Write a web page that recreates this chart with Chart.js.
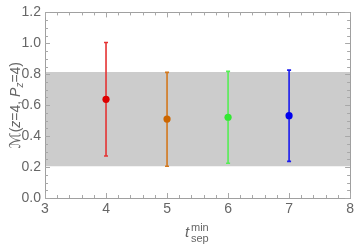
<!DOCTYPE html>
<html><head><meta charset="utf-8">
<script src="https://cdn.jsdelivr.net/npm/chart.js@4"></script>
<style>html,body{margin:0;padding:0;background:#fff}#w{width:357px;height:244px}</style>
</head><body><div id="w"><canvas id="c"></canvas></div>
<script>
const tsepMin = [4, 5, 6, 7];
const centralValues = [0.638, 0.51, 0.522, 0.532];
const errLow = [0.272, 0.205, 0.225, 0.237];
const errHigh = [1.005, 0.812, 0.819, 0.827];
const pointColors = ['#dd0000', '#cc6600', '#33e833', '#0000ee'];
const barColors = ['#e53333', '#d2771c', '#55ee55', '#1a1aee'];
const bandRange = [0.205, 0.815];
const xRange = [3, 8];
const yRange = [0, 1.2];

const datasets = [];
datasets.push({type:'line', data:[{x:xRange[0],y:bandRange[0]},{x:xRange[1],y:bandRange[0]}], borderWidth:0, pointRadius:0, fill:false, order:20});
datasets.push({type:'line', data:[{x:xRange[0],y:bandRange[1]},{x:xRange[1],y:bandRange[1]}], borderWidth:0, pointRadius:0, fill:'-1', backgroundColor:'#cccccc', order:19});
tsepMin.forEach((x,i)=>{
  datasets.push({type:'line', data:[{x:x,y:errLow[i]},{x:x,y:errHigh[i]}], borderColor:barColors[i], borderWidth:1.6,
    pointStyle:'line', pointRadius:2, pointBorderColor:barColors[i], pointBorderWidth:1.6, fill:false, order:5});
  datasets.push({type:'scatter', data:[{x:x,y:centralValues[i]}], backgroundColor:pointColors[i], borderWidth:0, pointRadius:3.6, order:1});
});

const isMult = (v,s)=>Math.abs(v/s - Math.round(v/s))<1e-6;
const FONT = '"Liberation Sans", Arial, sans-serif';

const framePlugin = {
  id:'frame',
  afterDraw(chart){
    const {ctx, chartArea:a, scales:{x,y}} = chart;
    ctx.save();
    ctx.strokeStyle = '#a0a0a0';
    ctx.lineWidth = 1;
    ctx.strokeRect(Math.round(a.left)+0.5, Math.round(a.top)+0.5, Math.round(a.right-a.left), Math.round(a.bottom-a.top));
    ctx.strokeStyle = '#a8a8a8';
    x.ticks.forEach(t=>{
      const px = Math.round(x.getPixelForValue(t.value))+0.5;
      const L = isMult(t.value,1) ? 5 : 3;
      ctx.beginPath();
      ctx.moveTo(px, a.bottom); ctx.lineTo(px, a.bottom-L);
      ctx.moveTo(px, a.top); ctx.lineTo(px, a.top+L);
      ctx.stroke();
    });
    y.ticks.forEach(t=>{
      const py = Math.round(y.getPixelForValue(t.value))+0.5;
      const L = isMult(t.value,0.2) ? 5 : 3;
      ctx.beginPath();
      ctx.moveTo(a.left, py); ctx.lineTo(a.left+L, py);
      ctx.moveTo(a.right, py); ctx.lineTo(a.right-L, py);
      ctx.stroke();
    });
    ctx.fillStyle = '#666';
    ctx.textBaseline = 'alphabetic';
    let tx = 185, ty = 237;
    ctx.font = 'italic 15px ' + FONT;
    ctx.fillText('t', tx, ty);
    ctx.font = '11px ' + FONT;
    ctx.fillText('min', tx+6, ty-6);
    ctx.fillText('sep', tx+6, ty+5);
    ctx.translate(15, (a.top+a.bottom)/2);
    ctx.rotate(-Math.PI/2);
    const parts = [
      {t:'ℳ', f:'15px "DejaVu Sans", sans-serif', dy:0},
      {t:'(', f:'14px ' + FONT, dy:0},
      {t:'z', f:'italic 14px ' + FONT, dy:0},
      {t:'=4, ', f:'14px ' + FONT, dy:0},
      {t:'P', f:'italic 14px ' + FONT, dy:0},
      {t:'z', f:'italic 10px ' + FONT, dy:3},
      {t:'=4)', f:'14px ' + FONT, dy:0}
    ];
    let w = 0;
    parts.forEach(p=>{ctx.font=p.f; w += ctx.measureText(p.t).width;});
    let cx = -w/2;
    parts.forEach(p=>{ctx.font=p.f; ctx.fillText(p.t, cx, 5+p.dy); cx += ctx.measureText(p.t).width;});
    ctx.restore();
  }
};

new Chart(document.getElementById('c'), {
  type:'scatter',
  data:{datasets},
  options:{
    responsive:true, maintainAspectRatio:false, animation:false,
    layout:{padding:{top:8, right:6, left:0, bottom:0}},
    plugins:{legend:{display:false}, tooltip:{enabled:false}, filler:{drawTime:'beforeDatasetsDraw'}},
    scales:{
      x:{type:'linear', min:xRange[0], max:xRange[1],
        afterFit(s){s.height = 46;},
        grid:{display:false, drawTicks:false}, border:{display:false},
        ticks:{stepSize:0.2, autoSkip:false, maxRotation:0, padding:3, color:'#666', font:{family:FONT, size:14},
          callback:(v)=> isMult(v,1) ? String(Math.round(v)) : ''}},
      y:{type:'linear', min:yRange[0], max:yRange[1],
        afterFit(s){s.width = 45;},
        grid:{display:false, drawTicks:false}, border:{display:false},
        ticks:{stepSize:0.05, autoSkip:false, padding:4, color:'#666', font:{family:FONT, size:14},
          callback:(v)=> isMult(v,0.2) ? v.toFixed(1) : ''}}
    }
  },
  plugins:[framePlugin]
});
</script></body></html>
